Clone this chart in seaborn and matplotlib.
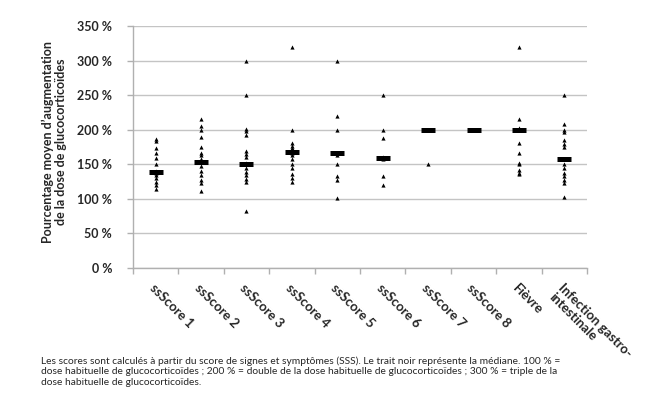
import pandas as pd
import numpy as np
import matplotlib
matplotlib.use("Agg")
import matplotlib.pyplot as plt
import seaborn as sns

# data (percent increase of glucocorticoid dose)
categories = ["ssScore 1", "ssScore 2", "ssScore 3", "ssScore 4", "ssScore 5",
              "ssScore 6", "ssScore 7", "ssScore 8", "Fièvre", "Infection gastro-\nintestinale"]
score1 = [187, 184, 174, 167, 159, 150, 140, 139, 138, 135, 130, 125, 120, 114]
score2 = [215, 205, 200, 189, 175, 167, 163, 158, 155, 153, 147, 141, 134, 127, 123, 111]
score3 = [300, 250, 201, 198, 193, 169, 165, 160, 152, 150, 150, 144, 139, 134, 129, 124, 82]
score4 = [320, 200, 181, 177, 173, 168, 167, 163, 157, 150, 144, 136, 130, 124]
score5 = [300, 220, 200, 167, 163, 150, 133, 127, 101]
score6 = [250, 200, 188, 160, 158, 133, 120]
score7 = [200, 200, 200, 150]
score8 = [200, 200, 200]
fievre = [320, 216, 203, 200, 200, 181, 167, 152, 150, 142, 138, 136]
infection = [250, 208, 200, 196, 185, 180, 175, 158, 157, 151, 144, 138, 133, 127, 123, 102]
medians = [139, 153, 150, 168, 167, 159, 200, 200, 200, 157]
yticks = [0, 50, 100, 150, 200, 250, 300, 350]

series = [score1, score2, score3, score4, score5, score6, score7, score8, fievre, infection]
df = pd.DataFrame({
    "cat": [c for c, vals in zip(categories, series) for _ in vals],
    "val": [v for vals in series for v in vals],
})
med_df = pd.DataFrame({"cat": categories, "val": medians})

sns.set_theme(style="white")
plt.rcParams["font.family"] = ["Lato", "DejaVu Sans"]

grey = "#B0B0B0"
fig = plt.figure(figsize=(6.6, 3.98), dpi=100)
ax = fig.add_axes([0.2015, 0.3266, 0.6879, 0.6081])

ax.yaxis.grid(True, color="#C4C4C4", linewidth=1)
ax.set_axisbelow(True)

sns.stripplot(data=df, x="cat", y="val", order=categories, jitter=False,
              marker="^", color="black", size=3.0, linewidth=0, ax=ax)
sns.pointplot(data=med_df, x="cat", y="val", order=categories, errorbar=None,
              markers="_", linestyles="none", color="black",
              markersize=10.5, markeredgewidth=3.6, ax=ax)

ax.set_xlim(-0.5, len(categories) - 0.5)
ax.set_ylim(0, 350)
ax.set_yticks(yticks)
ax.set_yticklabels([f"{t} %" for t in yticks], fontweight="bold", fontsize=9, color="#262626")
ax.tick_params(axis="y", length=4, width=1, color=grey, pad=11, left=True)

ax.set_xticks(np.arange(len(categories)))
ax.set_xticklabels(categories, rotation=-45, ha="left", va="top", rotation_mode="anchor",
                   fontweight="bold", fontsize=9.5, color="#262626", linespacing=1.05)
ax.set_xticks(np.arange(len(categories) + 1) - 0.5, minor=True)
ax.tick_params(axis="x", which="major", length=0, pad=10)
ax.tick_params(axis="x", which="minor", length=4, width=1, color=grey, bottom=True)

for s in ["top", "right"]:
    ax.spines[s].set_visible(False)
for s in ["left", "bottom"]:
    ax.spines[s].set_color(grey)
    ax.spines[s].set_linewidth(1)

ax.set_xlabel("")
ax.set_ylabel("")
fig.text(0.082, 0.643, "Pourcentage moyen d\u2019augmentation\nde la dose de glucocorticoïdes",
         rotation=90, ha="center", va="center", fontsize=9, fontweight="bold",
         color="#262626", linespacing=1.1)

fig.text(0.062, 0.028,
         "Les scores sont calculés à partir du score de signes et symptômes (SSS). Le trait noir représente la médiane. 100 % =\n"
         "dose habituelle de glucocorticoïdes ; 200 % = double de la dose habituelle de glucocorticoïdes ; 300 % = triple de la\n"
         "dose habituelle de glucocorticoïdes.",
         ha="left", va="bottom", fontsize=7.4, color="#262626", linespacing=1.2)

fig.savefig("out.png", dpi=100)
